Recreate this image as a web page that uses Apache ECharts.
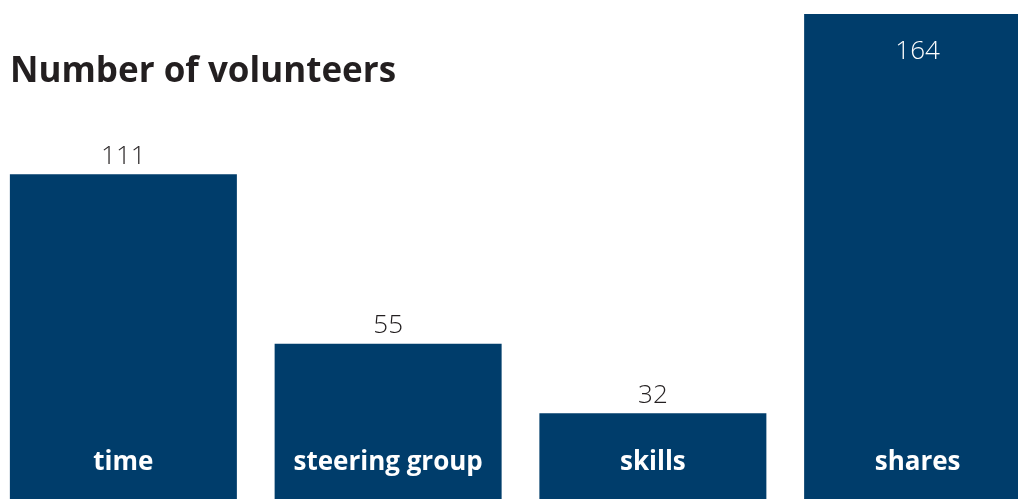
<!DOCTYPE html>
<html><head><meta charset="utf-8">
<script src="https://cdn.jsdelivr.net/npm/echarts@6/dist/echarts.min.js"></script>
<style>html,body{margin:0;padding:0;background:#fff;overflow:hidden;width:1018px;height:499px;position:relative}#c{position:absolute;left:-9px;top:0;width:1059px;height:510px}</style>
</head><body><div id="c"></div>
<script>
const categories = ['time', 'steering group', 'skills', 'shares'];
const volunteers = [111, 55, 32, 164];
const titleText = 'Number of volunteers';

const chart = echarts.init(document.getElementById('c'));
const data = volunteers.map((v, i) => {
  const d = { value: v };
  if (i === 3) d.label = { position: 'insideTop', color: '#ffffff', distance: 25 };
  return d;
});
chart.setOption({
  animation: false,
  title: { text: titleText, left: 14, top: 50, textStyle: { fontFamily: 'Open Sans', fontWeight: 'bold', fontSize: 35, color: '#231f20' } },
  grid: { left: 0, right: 0, top: 14, bottom: 0, containLabel: false },
  xAxis: {
    type: 'category', data: categories, z: 10,
    axisLine: { show: false }, axisTick: { show: false },
    axisLabel: { inside: true, margin: 34, color: '#ffffff', fontFamily: 'Open Sans', fontWeight: 'bold', fontSize: 26 }
  },
  yAxis: { type: 'value', min: 0, max: 164, show: false, splitLine: { show: false } },
  series: [{
    type: 'bar', data: data, barWidth: 227, itemStyle: { color: '#003d6b' },
    label: { show: true, position: 'top', distance: 5, color: '#231f20', fontFamily: 'Open Sans', fontWeight: 300, fontSize: 26 }
  }]
});
</script></body></html>
